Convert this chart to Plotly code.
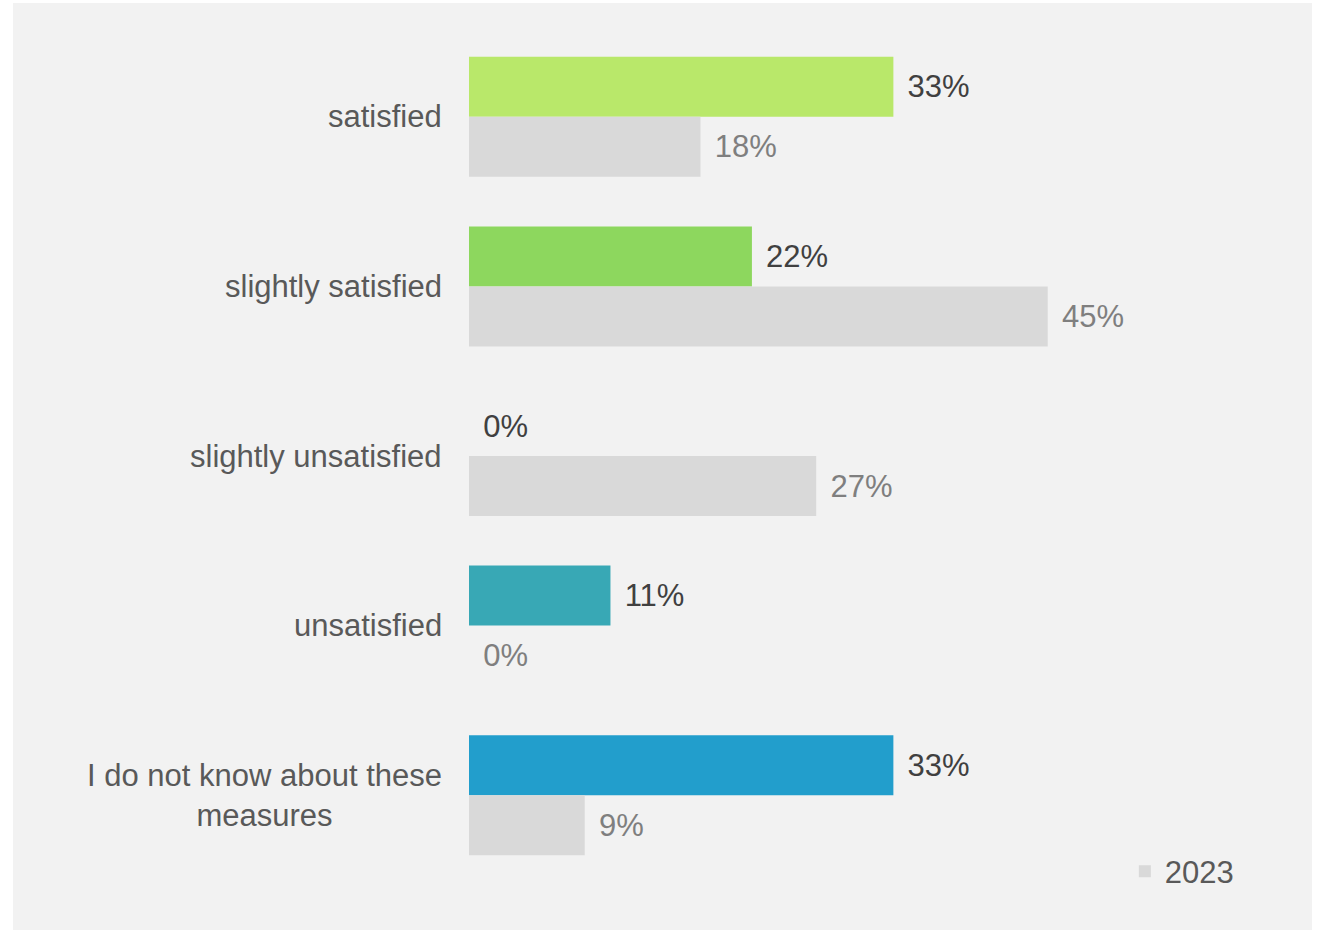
import plotly.graph_objects as go

categories = ["satisfied", "slightly satisfied", "slightly unsatisfied", "unsatisfied",
              "I do not know about these<br>measures"]
values_2024 = [33, 22, 0, 11, 33]
values_2023 = [18, 45, 27, 0, 9]
colors_2024 = ["#b9e86a", "#8dd75e", "#b9e86a", "#38a8b5", "#229ecc"]
color_2023 = "#d9d9d9"

FONT = "Arial, 'Liberation Sans', sans-serif"
FS = 31

fig = go.Figure()
fig.add_trace(go.Bar(
    y=categories, x=values_2024, orientation="h", name="2024",
    marker=dict(color=colors_2024, line=dict(width=0)),
    text=[f" \u200a{v}%" for v in values_2024], textposition="outside",
    textfont=dict(color="#404040", size=FS, family=FONT),
    cliponaxis=False, constraintext="none", showlegend=False,
))
fig.add_trace(go.Bar(
    y=categories, x=values_2023, orientation="h", name="2023",
    marker=dict(color=color_2023, line=dict(width=0)),
    text=[f" \u200a{v}%" for v in values_2023], textposition="outside",
    textfont=dict(color="#7f7f7f", size=FS, family=FONT),
    cliponaxis=False, constraintext="none", showlegend=True,
))

# category labels as centered annotations
for c in categories:
    fig.add_annotation(x=0, xref="paper", y=c, yref="y", text=c, showarrow=False,
                       xanchor="right", yanchor="middle", align="center", xshift=-25,
                       font=dict(color="#595959", size=FS, family=FONT))

# gray panel
fig.add_shape(type="rect", xref="paper", yref="paper", x0=-0.7092, x1=1.311,
              y0=-0.059, y1=1.0342, fillcolor="#f2f2f2", line=dict(width=0), layer="below")

fig.update_layout(
    width=1325, height=932,
    margin=dict(l=469, r=213, t=32, b=52),
    paper_bgcolor="white", plot_bgcolor="rgba(0,0,0,0)",
    barmode="group", bargap=0.2925, bargroupgap=0,
    font=dict(family=FONT, size=FS, color="#595959"),
    xaxis=dict(range=[0, 50], visible=False, fixedrange=True),
    yaxis=dict(autorange="reversed", showticklabels=False, showgrid=False,
               zeroline=False, showline=False, ticks=""),
    legend=dict(x=1.02, y=0.01, xanchor="left", yanchor="middle",
                bgcolor="rgba(0,0,0,0)", font=dict(size=FS, color="#595959", family=FONT)),
    showlegend=True,
)

fig.write_html("out.html")
